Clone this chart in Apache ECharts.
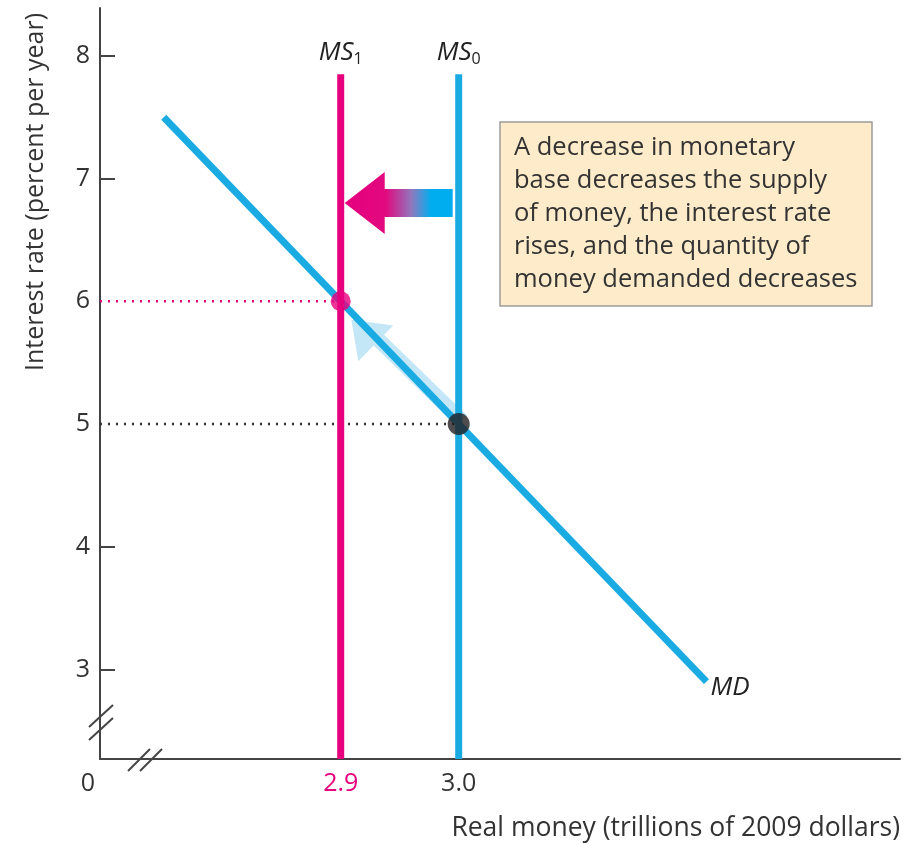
<!DOCTYPE html>
<html>
<head>
<meta charset="utf-8">
<script src="https://cdn.jsdelivr.net/npm/echarts@6/dist/echarts.min.js"></script>
<style>
  html, body { margin: 0; padding: 0; background: #fff; }
  #chart { width: 912px; height: 844px; }
</style>
</head>
<body>
<div id="chart"></div>
<script>
// ---- data ----
const xRange = [2.696, 3.374];
const yRange = [2.27, 8.39];
const yTickValues = [3, 4, 5, 6, 7, 8];
const yTickMarks = [3, 4, 7, 8];
const xTickValues = [2.9, 3.0];

const mdX = [2.75, 3.21];          // money demand curve
const mdY = [7.5, 2.9];
const msX = [2.9, 3.0];            // MS1, MS0
const msNames = ['1', '0'];
const msTop = 7.85;
const eqY = [6, 5];                // interest rate at MS1, MS0
const shiftY = 6.8;                // level of the big shift arrow
const moveTip = [2.909, 5.85];     // tip of the arrow along MD

const boxLines = [
  'A decrease in monetary',
  'base decreases the supply',
  'of money, the interest rate',
  'rises, and the quantity of',
  'money demanded decreases'
];

const PINK = '#e6007e';
const BLUE = '#1aabe3';
const FONT = 'Open Sans';
const TEXT = '#333';

const chart = echarts.init(document.getElementById('chart'));

const msSeries = msX.map((x, i) => ({
  type: 'line',
  z: 3,
  symbol: 'circle',
  symbolSize: 1,
  itemStyle: { color: 'rgba(0,0,0,0)' },
  lineStyle: { color: i === 0 ? PINK : BLUE, width: 7 },
  data: [
    [x, yRange[0]],
    {
      value: [x, msTop],
      label: {
        show: true,
        position: 'top',
        distance: 6,
        formatter: '{m|MS}{s|' + msNames[i] + '}',
        rich: {
          m: { fontFamily: FONT, fontStyle: 'italic', fontSize: 26, color: '#222' },
          s: { fontFamily: FONT, fontSize: 16, color: '#222', padding: [14, 0, 0, 0] }
        }
      }
    }
  ]
}));

const option = {
  animation: false,
  grid: { left: 100, right: 12, top: 8, bottom: 85 },
  xAxis: {
    type: 'value',
    min: xRange[0],
    max: xRange[1],
    splitLine: { show: false },
    axisLine: { onZero: false, lineStyle: { color: '#444', width: 2 } },
    axisTick: { show: false },
    axisLabel: {
      customValues: xTickValues,
      margin: 12,
      fontFamily: FONT,
      fontSize: 25,
      formatter: v => v.toFixed(1),
      color: v => (Math.abs(v - 2.9) < 1e-6 ? PINK : TEXT)
    }
  },
  yAxis: {
    type: 'value',
    min: yRange[0],
    max: yRange[1],
    splitLine: { show: false },
    axisLine: { onZero: false, lineStyle: { color: '#444', width: 2 } },
    axisTick: {
      show: true,
      inside: true,
      length: 15,
      customValues: yTickMarks,
      lineStyle: { color: '#444', width: 2 }
    },
    axisLabel: {
      customValues: yTickValues,
      margin: 10,
      fontFamily: FONT,
      fontSize: 25,
      color: v => (v === 6 ? PINK : TEXT)
    }
  },
  graphic: [
    {
      type: 'text', rotation: Math.PI / 2, x: 36, y: 192,
      style: { text: 'Interest rate (percent per year)', fontFamily: FONT, fontSize: 25, fill: TEXT, align: 'center', verticalAlign: 'middle' }
    },
    {
      type: 'text', x: 900, y: 828,
      style: { text: 'Real money (trillions of 2009 dollars)', fontFamily: FONT, fontSize: 26.5, fill: TEXT, align: 'right', verticalAlign: 'middle' }
    },
    {
      type: 'text', x: 88, y: 784,
      style: { text: '0', fontFamily: FONT, fontSize: 25, fill: TEXT, align: 'center', verticalAlign: 'middle' }
    },
    // axis break marks
    { type: 'line', shape: { x1: 89, y1: 727, x2: 113, y2: 705 }, style: { stroke: '#444', lineWidth: 2 } },
    { type: 'line', shape: { x1: 89, y1: 740, x2: 113, y2: 718 }, style: { stroke: '#444', lineWidth: 2 } },
    { type: 'line', shape: { x1: 128, y1: 771, x2: 150, y2: 749 }, style: { stroke: '#444', lineWidth: 2 } },
    { type: 'line', shape: { x1: 140, y1: 771, x2: 162, y2: 749 }, style: { stroke: '#444', lineWidth: 2 } },
    // annotation box
    {
      type: 'group', x: 500, y: 122,
      children: [
        { type: 'rect', shape: { x: 0, y: 0, width: 372, height: 184 }, style: { fill: '#fdebc9', stroke: '#9c9c9c', lineWidth: 1.5 } },
        {
          type: 'text', x: 14, y: 9,
          style: { text: boxLines.join('\n'), fontFamily: FONT, fontSize: 25.5, lineHeight: 33, fill: TEXT }
        }
      ]
    }
  ],
  series: [
    // light blue arrow along MD
    {
      type: 'custom',
      z: 1,
      data: [[msX[1], eqY[1], moveTip[0], moveTip[1]]],
      renderItem: (params, api) => {
        const p0 = api.coord([api.value(0), api.value(1)]);
        const p1 = api.coord([api.value(2), api.value(3)]);
        const dx = p1[0] - p0[0], dy = p1[1] - p0[1];
        const len = Math.hypot(dx, dy);
        const ux = dx / len, uy = dy / len;
        let nx = -uy, ny = ux;
        if (ny > 0) { nx = -nx; ny = -ny; }
        const headLen = 34, headW = 25;
        const bx = p1[0] - ux * headLen, by = p1[1] - uy * headLen;
        const pt = (x, y, o) => [x + nx * o, y + ny * o];
        return {
          type: 'polygon',
          shape: {
            points: [
              pt(p0[0], p0[1], -3),
              pt(bx, by, -3),
              pt(bx, by, -headW),
              [p1[0], p1[1]],
              pt(bx, by, headW),
              pt(bx, by, 12),
              pt(p0[0], p0[1], 12)
            ]
          },
          style: { fill: '#c4e7f8' }
        };
      }
    },
    // MD curve
    {
      type: 'line',
      z: 2,
      symbol: 'none',
      lineStyle: { color: BLUE, width: 7 },
      data: mdX.map((x, i) => [x, mdY[i]]),
      endLabel: {
        show: true,
        formatter: 'MD',
        fontFamily: FONT,
        fontStyle: 'italic',
        fontSize: 26,
        color: '#222',
        distance: 4,
        offset: [0, 6]
      }
    },
    ...msSeries,
    // dotted guides
    {
      type: 'line', z: 2, symbol: 'none',
      lineStyle: { color: PINK, width: 2.5, type: [2, 6] },
      data: [[xRange[0], eqY[0]], [msX[0], eqY[0]]]
    },
    {
      type: 'line', z: 2, symbol: 'none',
      lineStyle: { color: '#333', width: 2.5, type: [2, 6] },
      data: [[xRange[0], eqY[1]], [msX[1], eqY[1]]]
    },
    // shift arrow MS0 -> MS1
    {
      type: 'custom',
      z: 4,
      data: [[msX[1], msX[0], shiftY]],
      renderItem: (params, api) => {
        const p0 = api.coord([api.value(0), api.value(2)]);
        const p1 = api.coord([api.value(1), api.value(2)]);
        const tailX = p0[0] - 6, tipX = p1[0] + 4, y = p0[1];
        const headLen = 40, shaftH = 14, headH = 31;
        return {
          type: 'polygon',
          shape: {
            points: [
              [tailX, y - shaftH],
              [tipX + headLen, y - shaftH],
              [tipX + headLen, y - headH],
              [tipX, y],
              [tipX + headLen, y + headH],
              [tipX + headLen, y + shaftH],
              [tailX, y + shaftH]
            ]
          },
          style: {
            fill: new echarts.graphic.LinearGradient(0, 0, 1, 0, [
              { offset: 0, color: PINK },
              { offset: 0.38, color: '#e2097f' },
              { offset: 0.62, color: '#8f78bd' },
              { offset: 0.8, color: '#00aeef' },
              { offset: 1, color: '#00aeef' }
            ])
          }
        };
      }
    },
    // equilibrium points
    {
      type: 'scatter', z: 5,
      symbolSize: 20,
      itemStyle: { color: PINK },
      data: [[msX[0], eqY[0]]]
    },
    {
      type: 'scatter', z: 5,
      symbolSize: 22,
      itemStyle: { color: '#231f20' },
      data: [[msX[1], eqY[1]]]
    }
  ]
};

chart.setOption(option);
</script>
</body>
</html>
